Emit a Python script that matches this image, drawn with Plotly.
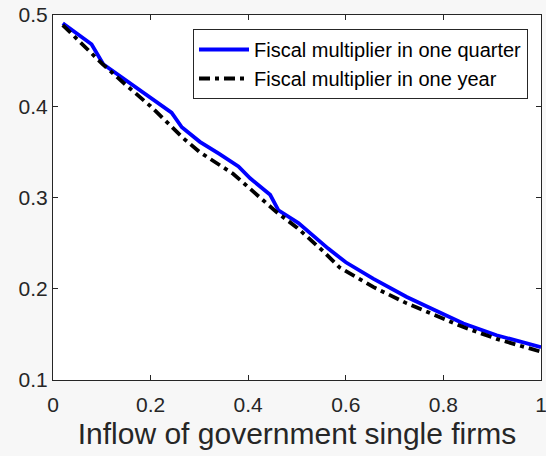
import plotly.graph_objects as go

# Fiscal multiplier in one quarter (blue solid)
quarter_x = [0.02, 0.079, 0.103, 0.15, 0.2, 0.243, 0.264, 0.301, 0.34, 0.38, 0.404,
             0.445, 0.462, 0.503, 0.564, 0.6, 0.656, 0.725, 0.773, 0.841, 0.909, 1.0]
quarter_y = [0.491, 0.468, 0.446, 0.428, 0.409, 0.393, 0.377, 0.361, 0.348, 0.334, 0.321,
             0.303, 0.286, 0.272, 0.244, 0.229, 0.211, 0.191, 0.179, 0.162, 0.149, 0.136]

# Fiscal multiplier in one year (black dash-dot)
year_x = [0.02, 0.1, 0.15, 0.2, 0.267, 0.3, 0.369, 0.42, 0.458, 0.5, 0.554, 0.588,
          0.656, 0.725, 0.793, 0.841, 0.909, 1.0]
year_y = [0.489, 0.447, 0.423, 0.400, 0.365, 0.350, 0.326, 0.302, 0.284, 0.267, 0.241, 0.223,
          0.202, 0.184, 0.169, 0.158, 0.145, 0.131]

x_ticks = [0, 0.2, 0.4, 0.6, 0.8, 1]
x_labels = ["0", "0.2", "0.4", "0.6", "0.8", "1"]
y_ticks = [0.1, 0.2, 0.3, 0.4, 0.5]
y_labels = ["0.1", "0.2", "0.3", "0.4", "0.5"]

FONT = "Liberation Sans, Arial"

fig = go.Figure()
fig.add_trace(go.Scatter(x=quarter_x, y=quarter_y, mode="lines",
                         name="Fiscal multiplier in one quarter",
                         line=dict(color="#0000ff", width=3.8)))
fig.add_trace(go.Scatter(x=year_x, y=year_y, mode="lines",
                         name="Fiscal multiplier in one year",
                         line=dict(color="#000000", width=3.8, dash="11px,5px,4px,5px")))

axis_common = dict(showline=True, linecolor="#262626", linewidth=1, mirror="ticks",
                   ticks="inside", ticklen=5, tickcolor="#262626", showgrid=False,
                   zeroline=False, automargin=False, ticklabeloverflow="allow",
                   tickfont=dict(family=FONT, size=21, color="#262626"))

fig.update_xaxes(range=[0, 1], tickvals=x_ticks, ticktext=x_labels,
                 ticklabelstandoff=6,
                 title=dict(text="Inflow of government single firms",
                            font=dict(family=FONT, size=30, color="#262626"),
                            standoff=7),
                 **axis_common)
fig.update_yaxes(range=[0.1, 0.5], tickvals=y_ticks, ticktext=y_labels, **axis_common)

fig.update_layout(
    width=546, height=456,
    margin=dict(l=53, r=5, t=15, b=76),
    paper_bgcolor="#f7f7f7", plot_bgcolor="#ffffff",
    legend=dict(x=(528 - 53) / 488, y=(380 - 29) / 365, xanchor="right", yanchor="top",
                bgcolor="#ffffff", bordercolor="#262626", borderwidth=1,
                font=dict(family=FONT, size=20, color="#000000"),
                itemwidth=50, tracegroupgap=0),
    showlegend=True,
)

fig.write_html("out.html", config={"displayModeBar": False},
               post_script="document.body.style.margin='0';document.body.style.padding='0';")
